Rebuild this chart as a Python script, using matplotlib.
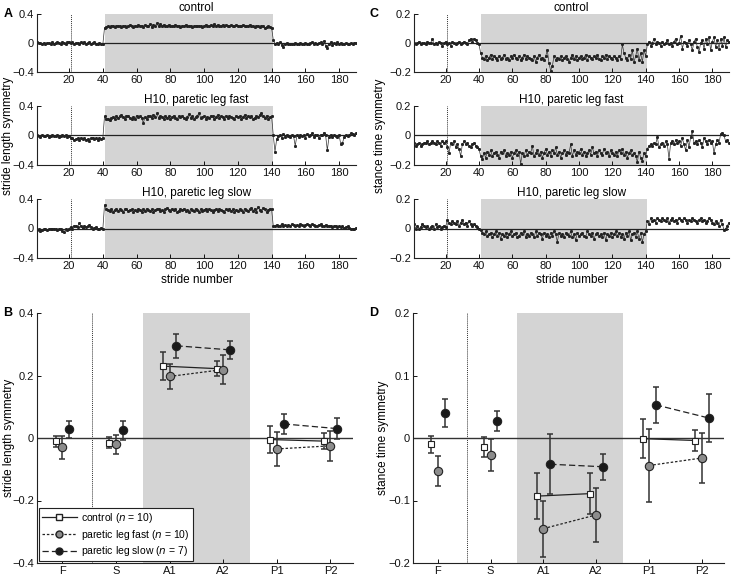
import numpy as np
import matplotlib
matplotlib.use("Agg")
import matplotlib.pyplot as plt
from matplotlib.lines import Line2D

plt.rcParams['font.family'] = ['Liberation Sans', 'DejaVu Sans']
plt.rcParams['font.size'] = 8

# ---- stride-by-stride series (hundredths), strides 1..190 ----
sl_control = [
    1, 0, 0, -1, 0, -1, 0, 0, -1, 1, -1, 0, 1, 0, -2, 1, 0, -1, 1, 2,
    0, 1, -1, 0, 0, -1, 1, 0, 2, -1, 0, 1, -2, 0, 1, -1, -2, 0, -1, -2,
    21, 22, 23, 22, 23, 24, 22, 23, 24, 23, 22, 24, 23, 22, 24, 25, 23, 22, 24, 23,
    25, 23, 24, 22, 25, 23, 24, 26, 22, 25, 24, 27, 23, 26, 24, 25, 23, 24, 25, 24,
    23, 24, 25, 23, 24, 22, 24, 23, 25, 24, 23, 24, 22, 23, 24, 23, 24, 23, 22, 24,
    25, 24, 23, 25, 24, 26, 24, 25, 23, 24, 25, 24, 25, 24, 23, 25, 24, 24, 25, 24,
    23, 24, 25, 24, 23, 24, 25, 24, 23, 22, 24, 23, 22, 24, 23, 21, 22, 23, 22, 21,
    4, -1, 0, -2, 1, -3, -5, -1, 0, -2, -1, -2, -1, 0, -1, -2, 0, -1, -1, 0,
    -2, -1, 0, 1, -1, 0, -2, 0, 1, -1, 3, -4, -7, -2, 1, -3, 0, -2, 1, -1,
    0, -2, -1, 0, -1, -2, 0, -1, 0, 0]
sl_fast = [
    0, -1, -2, 0, -1, -1, 0, -2, -1, 0, -1, -1, 0, -2, -1, 0, -1, 0, -2, -1,
    -3, -4, -6, -5, -4, -6, -3, -5, -4, -6, -5, -7, -4, -3, -5, -4, -6, -3, -5, -4,
    26, 22, 23, 21, 24, 25, 22, 27, 24, 26, 28, 25, 23, 26, 27, 24, 22, 25, 23, 27,
    25, 26, 24, 17, 25, 23, 27, 26, 24, 28, 25, 30, 24, 26, 25, 23, 27, 24, 26, 22,
    25, 27, 24, 23, 26, 25, 27, 24, 22, 25, 29, 24, 26, 23, 25, 27, 30, 24, 25, 26,
    23, 25, 24, 27, 26, 22, 25, 28, 24, 26, 25, 23, 27, 24, 26, 25, 24, 22, 27, 25,
    26, 23, 25, 28, 24, 26, 25, 27, 23, 24, 26, 25, 28, 30, 26, 24, 27, 22, 25, 26,
    0, -22, -5, -1, 0, -3, 2, -2, 0, -1, -2, 0, -1, -14, 0, -2, 1, -1, 0, -3,
    2, -1, 0, 3, -2, 1, 0, -3, 1, 0, 4, 0, -20, -2, 1, -2, 0, -1, -2, 0,
    -12, -10, -2, 0, -1, 1, 3, 2, 0, 3]
sl_slow = [
    -2, -1, -3, -2, -1, 0, -2, -1, 0, -1, 0, -1, -2, -1, 0, -3, -5, -1, -2, 0,
    2, 0, 4, 3, 2, 7, 3, 1, 4, 2, 3, 5, 2, 0, 1, 2, -1, 0, 1, -1,
    32, 27, 25, 24, 26, 23, 25, 27, 24, 26, 25, 23, 26, 27, 24, 25, 26, 23, 25, 24,
    27, 25, 23, 26, 24, 27, 25, 24, 26, 23, 25, 26, 27, 24, 25, 23, 26, 28, 25, 24,
    27, 25, 26, 23, 24, 26, 25, 27, 24, 25, 23, 26, 25, 24, 27, 25, 23, 26, 24, 25,
    27, 24, 26, 25, 23, 25, 26, 24, 27, 25, 24, 23, 26, 25, 27, 24, 26, 23, 25, 24,
    26, 25, 23, 27, 25, 24, 26, 28, 24, 27, 23, 29, 25, 24, 28, 26, 22, 25, 27, 26,
    3, 4, 5, 3, 4, 6, 4, 5, 3, 5, 4, 6, 5, 3, 5, 4, 6, 5, 4, 5,
    6, 5, 4, 6, 5, 3, 4, 5, 6, 4, 3, 5, 4, 3, 4, 2, 3, 4, 2, 3,
    2, 3, 1, 2, 3, 1, -1, 0, -1, 1]

st_control = [
    0, -1, 0, 1, -1, 0, 0, -1, 1, 0, 0, 3, -1, 0, -1, 1, 0, -2, 0, 1,
    -1, 0, -2, 1, 0, -1, 0, 1, -1, 0, 1, 0, -1, 2, 3, 1, 3, 2, 0, -1,
    -7, -10, -11, -9, -12, -10, -8, -11, -9, -10, -12, -9, -11, -10, -8, -11, -10, -12, -9, -10,
    -8, -10, -11, -9, -12, -10, -8, -11, -9, -10, -11, -12, -9, -13, -10, -8, -11, -10, -12, -9,
    -5, -14, -19, -16, -9, -12, -10, -11, -9, -12, -10, -9, -11, -13, -10, -8, -11, -9, -12, -10,
    -9, -11, -10, -8, -12, -9, -10, -11, -9, -10, -8, -11, -12, -9, -10, -8, -11, -9, -10, -11,
    -9, -10, -12, -9, -11, -1, -7, -10, -12, -8, -11, -5, -13, -9, -4, -12, -7, -13, -5, -9,
    -1, 1, -2, 0, 3, -1, 1, 0, -2, 1, -1, 0, 2, -1, 0, -2, 1, 3, -1, 0,
    5, -4, 1, 0, -2, 2, -1, -5, 1, 3, -3, -6, 0, 2, -4, 3, -1, 4, -5, 1,
    4, -3, 2, -4, 3, -2, 4, -3, 2, 1]
st_fast = [
    -5, -7, -6, -5, -7, -6, -5, -5, -4, -6, -5, -4, -5, -6, -4, -5, -7, -4, -5, -4,
    -8, -12, -5, -6, -4, -8, -6, -9, -14, -6, -4, -6, -5, -7, -8, -6, -5, -7, -8, -9,
    -14, -16, -12, -15, -11, -13, -10, -14, -12, -11, -13, -15, -11, -12, -10, -14, -12, -13, -11, -15,
    -12, -10, -13, -11, -19, -12, -14, -10, -13, -11, -12, -7, -14, -12, -10, -13, -11, -15, -12, -9,
    -13, -11, -14, -10, -12, -8, -13, -11, -15, -12, -10, -13, -11, -12, -6, -14, -10, -13, -11, -12,
    -9, -13, -11, -14, -12, -10, -13, -8, -12, -11, -14, -10, -12, -13, -9, -12, -11, -14, -10, -12,
    -13, -11, -14, -10, -12, -9, -13, -11, -15, -12, -10, -13, -12, -14, -18, -11, -15, -17, -12, -14,
    -9, -7, -6, -7, -5, -6, -1, -8, -6, -5, -7, -4, -6, -16, -5, -4, -6, -3, -5, -4,
    -7, -2, -6, -10, -3, -8, -1, 3, -5, -4, -6, -3, -5, -8, -2, -4, -6, -3, -5, -4,
    -12, -6, -3, -5, 1, 2, 0, -4, -3, -5]
st_slow = [
    3, 0, 2, 0, 1, 3, 2, 1, 2, 0, 1, 2, 0, 3, 1, 2, 0, 1, 2, 1,
    6, 4, 3, 5, 4, 3, 5, 2, 4, 6, 3, 4, 2, 5, 3, 2, 3, 2, 1, 0,
    -1, -3, -4, -2, -5, -4, -3, -6, -4, -2, -5, -3, -7, -4, -5, -3, -6, -4, -2, -5,
    -4, -3, -6, -5, -3, -4, -2, -6, -4, -5, -3, -4, -6, -2, -5, -3, -4, -7, -3, -5,
    -4, -6, -3, -5, -2, -4, -9, -3, -5, -4, -6, -3, -4, -5, -2, -6, -4, -8, -3, -5,
    -4, -3, -5, -6, -2, -4, -5, -3, -7, -4, -3, -5, -4, -6, -3, -8, -4, -5, -3, -6,
    -4, -2, -5, -3, -6, -4, -7, -3, -5, -2, -8, -4, -3, -6, -2, -7, -3, -9, -4, -2,
    5, 3, 7, 5, 6, 4, 7, 6, 5, 7, 6, 5, 7, 4, 6, 7, 5, 6, 4, 7,
    6, 5, 7, 6, 4, 6, 5, 7, 6, 5, 4, 6, 7, 5, 6, 4, 5, 7, 6, 4,
    3, 5, 4, 2, 6, 3, -1, 0, 2, 4]

series_titles = ['control', 'H10, paretic leg fast', 'H10, paretic leg slow']

# ---- group means and SD (epochs F, S, A1, A2, P1, P2) ----
epochs = ['F', 'S', 'A1', 'A2', 'P1', 'P2']
sl_ctrl_mean = [-0.010, -0.015, 0.230, 0.222, -0.005, -0.010]
sl_ctrl_err = [0.018, 0.018, 0.045, 0.024, 0.042, 0.026]
sl_fast_mean = [-0.030, -0.020, 0.197, 0.219, -0.035, -0.025]
sl_fast_err = [0.037, 0.030, 0.041, 0.046, 0.055, 0.047]
sl_slow_mean = [0.028, 0.025, 0.295, 0.282, 0.045, 0.030]
sl_slow_err = [0.027, 0.030, 0.038, 0.028, 0.033, 0.033]

st_ctrl_mean = [-0.010, -0.014, -0.093, -0.089, -0.001, -0.004]
st_ctrl_err = [0.014, 0.016, 0.037, 0.033, 0.031, 0.017]
st_fast_mean = [-0.052, -0.027, -0.145, -0.123, -0.044, -0.032]
st_fast_err = [0.024, 0.025, 0.045, 0.043, 0.059, 0.040]
st_slow_mean = [0.040, 0.027, -0.042, -0.046, 0.053, 0.032]
st_slow_err = [0.023, 0.016, 0.048, 0.021, 0.029, 0.039]

W, H = 732, 576
fig = plt.figure(figsize=(W / 100, H / 100), dpi=100)


def px_axes(x0, y0, x1, y1):
    return fig.add_axes([x0 / W, 1 - y1 / H, (x1 - x0) / W, (y1 - y0) / H])


def style(ax):
    for s in ['top', 'right']:
        ax.spines[s].set_visible(False)
    for s in ['left', 'bottom']:
        ax.spines[s].set_linewidth(0.8)
        ax.spines[s].set_color('#222222')
    ax.tick_params(direction='in', length=3, width=0.7, labelsize=8, pad=2, colors='#111111')


def stride_panel(ax, vals, lim, title, last):
    y = np.array(vals) / 100.0
    x = np.arange(1, len(y) + 1)
    ax.axvspan(41, 141, color='#d4d4d4', lw=0, zorder=0)
    ax.axvline(21, color='#333333', ls=(0, (1, 1)), lw=0.7, zorder=1)
    ax.axhline(0, color='#222222', lw=0.9, zorder=2)
    ax.plot(x, y, color='#333333', lw=0.5, marker='s', ms=1.1, mfc='#222222', mec='#222222', zorder=3)
    ax.set_xlim(1, 190)
    ax.set_ylim(-lim, lim)
    ax.set_yticks([-lim, 0, lim])
    ax.set_yticklabels(['\u2212%g' % lim, '0', '%g' % lim])
    ax.set_xticks(range(20, 181, 20))
    ax.set_title(title, fontsize=8.5, pad=2)
    if last:
        ax.set_xlabel('stride number', fontsize=8.5, labelpad=2)
    style(ax)


rows = [(14, 72), (106, 165), (199, 258)]
sl_series = [sl_control, sl_fast, sl_slow]
st_series = [st_control, st_fast, st_slow]
for i, (y0, y1) in enumerate(rows):
    axA = px_axes(37, y0, 356, y1)
    stride_panel(axA, sl_series[i], 0.4, series_titles[i], i == 2)
    axC = px_axes(414, y0, 729, y1)
    stride_panel(axC, st_series[i], 0.2, series_titles[i], i == 2)

ylabels = [('stride length symmetry', 8, 136), ('stance time symmetry', 380, 136),
           ('stride length symmetry', 9, 438), ('stance time symmetry', 383, 438)]
for txt, x, y in ylabels:
    fig.text(x / W, 1 - y / H, txt, rotation=90, ha='center', va='center', fontsize=8.5)


def group_panel(ax, means, errs, lim, step):
    pos = np.arange(1, len(epochs) + 1)
    ax.axvspan(2.5, 4.5, color='#d4d4d4', lw=0, zorder=0)
    ax.axvline(1.55, color='#333333', ls=(0, (1, 1)), lw=0.7, zorder=1)
    ax.axhline(0, color='#333333', lw=1.0, zorder=2)
    offs = [-0.12, 0.0, 0.13]
    styles = [('s', 'white', '-', 4.5), ('o', '#8c8c8c', (0, (2, 1.5)), 6), ('o', '#1a1a1a', (0, (5, 2.5)), 6)]
    for (m, e), off, (mk, fc, ls, ms) in zip(zip(means, errs), offs, styles):
        xs = pos + off
        m = np.array(m)
        for a, b in [(2, 4), (4, 6)]:
            ax.plot(xs[a:b], m[a:b], color='#222222', ls=ls, lw=0.9, zorder=3)
        ax.errorbar(xs, m, yerr=e, fmt='none', ecolor='#333333', elinewidth=1.1, capsize=2.5, capthick=1.1, zorder=4)
        ax.plot(xs, m, ls='none', marker=mk, ms=ms, mfc=fc, mec='#222222', mew=0.8, zorder=5)
    ax.set_xlim(0.53, 6.42)
    ax.set_ylim(-lim, lim)
    ticks = np.round(np.arange(-lim, lim + step / 2, step), 2)
    ax.set_yticks(ticks)
    ax.set_yticklabels(['0' if t == 0 else ('\u2212%g' % -t if t < 0 else '%g' % t) for t in ticks])
    ax.set_xticks(pos)
    ax.set_xticklabels(epochs)
    style(ax)


axB = px_axes(37, 313, 353, 563)
group_panel(axB, [sl_ctrl_mean, sl_fast_mean, sl_slow_mean], [sl_ctrl_err, sl_fast_err, sl_slow_err], 0.4, 0.2)
axD = px_axes(413, 313, 724, 563)
group_panel(axD, [st_ctrl_mean, st_fast_mean, st_slow_mean], [st_ctrl_err, st_fast_err, st_slow_err], 0.2, 0.1)

handles = [
    Line2D([], [], color='#222222', ls='-', lw=0.9, marker='s', ms=4.5, mfc='white', mec='#222222'),
    Line2D([], [], color='#222222', ls=(0, (2, 1.5)), lw=0.9, marker='o', ms=5, mfc='#8c8c8c', mec='#222222'),
    Line2D([], [], color='#222222', ls=(0, (5, 2.5)), lw=0.9, marker='o', ms=5, mfc='#1a1a1a', mec='#222222'),
]
labels = [r'control ($\it{n}$ = 10)', r'paretic leg fast ($\it{n}$ = 10)', r'paretic leg slow ($\it{n}$ = 7)']
leg = axB.legend(handles, labels, loc='lower left', bbox_to_anchor=(0.0, 0.0), fontsize=7.5,
                 handlelength=3.4, handletextpad=0.4, borderpad=0.3, labelspacing=0.25,
                 fancybox=False, framealpha=1, edgecolor='#222222', borderaxespad=0.15)
leg.get_frame().set_linewidth(0.8)

for letter, (x, y) in zip('ABCD', [(8, 14), (8, 313), (374, 14), (374, 313)]):
    fig.text(x / W, 1 - y / H, letter, fontsize=9, fontweight='bold', ha='center', va='center')

fig.savefig('out.png', dpi=100)
